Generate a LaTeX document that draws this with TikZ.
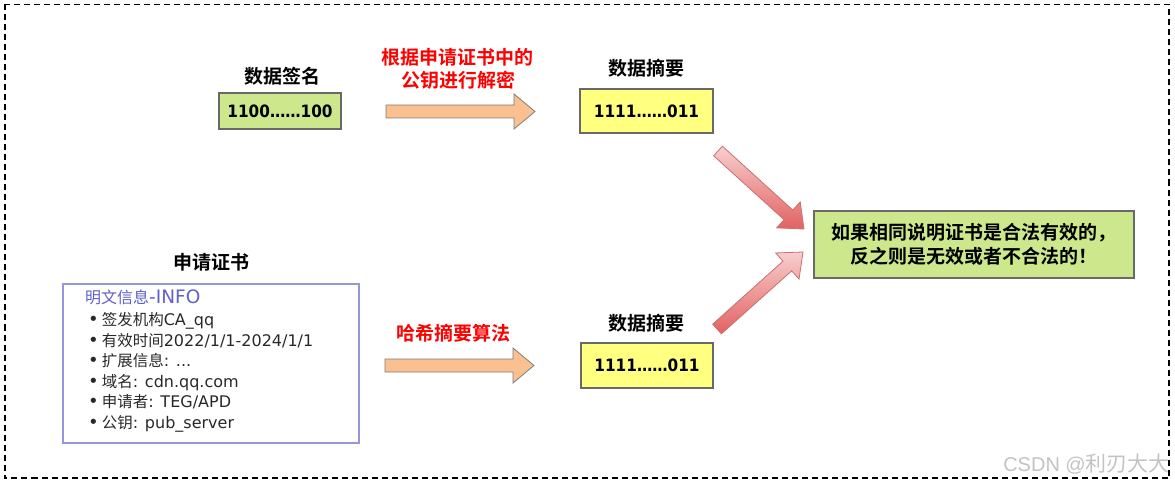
\documentclass[tikz,border=0pt]{standalone}
\usepackage{fontspec}
\setmainfont{Noto Sans CJK SC}[BoldFont={Noto Sans CJK SC Bold}]
\newfontfamily\digfont{DejaVu Sans}[FakeStretch=0.9]
\newfontfamily\latfont{DejaVu Sans}
\newfontfamily\wmfont{Liberation Sans}
\newcommand{\lat}[1]{{\latfont\fontsize{16}{18}\selectfont #1}}
\newcommand{\bul}{{\latfont\fontsize{18}{18}\selectfont •}\hspace{3pt}}
\usetikzlibrary{calc}
\definecolor{boxgreen}{RGB}{205,232,140}
\definecolor{boxyellow}{RGB}{255,255,128}
\definecolor{boxline}{RGB}{105,105,105}
\definecolor{peach}{RGB}{250,192,143}
\definecolor{peachline}{RGB}{125,125,125}
\definecolor{pinklight}{RGB}{248,206,206}
\definecolor{pinkdark}{RGB}{226,98,98}
\definecolor{pinkline}{RGB}{205,110,110}
\definecolor{certline}{RGB}{150,150,220}
\definecolor{certtitle}{RGB}{95,95,205}
\definecolor{certtext}{RGB}{40,40,40}
\definecolor{wmgray}{RGB}{195,195,195}
\newcommand{\blockarr}[3]{%
  \path ($(#2)!21pt!(#1)$) coordinate (hb);
  \draw[#3] ($(#1)!6.5pt!90:(#2)$) -- ($(hb)!6.5pt!90:(#2)$) -- ($(hb)!17.5pt!90:(#2)$)
    -- (#2) -- ($(hb)!17.5pt!-90:(#2)$) -- ($(hb)!6.5pt!-90:(#2)$) -- ($(#1)!6.5pt!-90:(#2)$) -- cycle;
}
\tikzset{
  lab/.style={font=\fontsize{19}{22}\selectfont\bfseries, inner sep=0pt},
  redlab/.style={font=\fontsize{19}{22}\selectfont\bfseries, text=red, inner sep=0pt},
  bitbox/.style={draw=boxline, line width=1.5pt, inner sep=0pt,
    font=\digfont\fontsize{17}{20}\selectfont\bfseries},
  peacharrow/.style={fill=peach, draw=peachline, line width=0.8pt},
  pinkarrow/.style={top color=pinklight, bottom color=pinkdark, draw=pinkline, line width=0.8pt},
  certline/.style={anchor=base west, inner sep=0pt, text=certtext, font=\fontsize{15.5}{18}\selectfont},
}
\begin{document}
\begin{tikzpicture}[x=1pt,y=-1pt]
\useasboundingbox (0,0) rectangle (1175,486);
\draw[dashed, dash pattern=on 6pt off 4pt, line width=1.3pt] (5,4.5) rectangle (1169,478);

% top row
\node[lab] (lsig) at (282,76) {数据签名};
\node[bitbox, fill=boxgreen, minimum width=122pt, minimum height=36pt] (sig) at (280,111) {1100……100};
\node[redlab] (r1a) at (457,57) {根据申请证书中的};
\node[redlab] (r1b) at (458,80) {公钥进行解密};
\node[lab] (ldg1) at (646,68) {数据摘要};
\node[bitbox, fill=boxyellow, minimum width=133pt, minimum height=44pt] (dg1) at (646.5,111) {1111……011};
\coordinate (a1t) at (386,111.5);
\coordinate (a1h) at (535,111.5);
\blockarr{a1t}{a1h}{peacharrow}

% result
\node[draw=boxline, line width=1.5pt, fill=boxgreen, minimum width=320pt, minimum height=67pt,
  align=center, font=\fontsize{19}{24}\selectfont\bfseries, inner sep=0pt] (res) at (974,244.5)
  {如果相同说明证书是合法有效的，\\反之则是无效或者不合法的！};
\coordinate (d1t) at (718,151);
\coordinate (d1h) at (804,229);
\blockarr{d1t}{d1h}{pinkarrow}
\coordinate (d2t) at (717,329);
\coordinate (d2h) at (803,252);
\blockarr{d2t}{d2h}{pinkarrow}

% certificate
\node[lab] (lcert) at (211,262) {申请证书};
\node[draw=certline, line width=1.5pt, minimum width=296pt, minimum height=159pt, inner sep=0pt] (cert) at (211,363.5) {};
\node[certline, text=certtitle, font=\fontsize{16}{18}\selectfont] (c0) at (85,303) {明文信息{\latfont\fontsize{18.5}{18}\selectfont -INFO}};
\node[certline] (c1) at (88,326) {\bul 签发机构\lat{CA\_qq}};
\node[certline] (c2) at (88,346) {\bul 有效时间\lat{2022/1/1-2024/1/1}};
\node[certline] (c3) at (88,366.5) {\bul 扩展信息\lat{: ...}};
\node[certline] (c4) at (88,387) {\bul 域名\lat{: cdn.qq.com}};
\node[certline] (c5) at (88,407.5) {\bul 申请者\lat{: TEG/APD}};
\node[certline] (c6) at (88,428) {\bul 公钥\lat{: pub\_server}};

% bottom row
\node[redlab] (r2) at (453,333) {哈希摘要算法};
\node[lab] (ldg2) at (646,323) {数据摘要};
\node[bitbox, fill=boxyellow, minimum width=132pt, minimum height=45pt] (dg2) at (647,365.5) {1111……011};
\coordinate (a2t) at (385,365.5);
\coordinate (a2h) at (534,365.5);
\blockarr{a2t}{a2h}{peacharrow}

% watermark
\node[anchor=base east, inner sep=0pt, text=wmgray, font=\fontsize{21}{24}\selectfont] (wm) at (1170,471)
  {{\wmfont\fontsize{20}{24}\selectfont CSDN @}利刃大大};
\end{tikzpicture}
\end{document}
